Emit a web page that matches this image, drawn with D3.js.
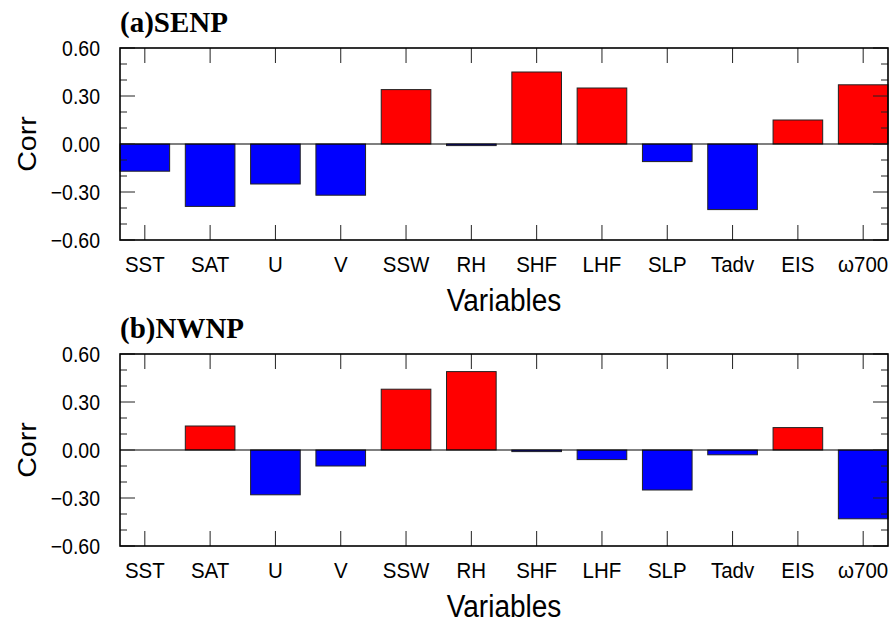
<!DOCTYPE html>
<html>
<head>
<meta charset="utf-8">
<script src="https://cdn.jsdelivr.net/npm/d3@7"></script>
<style>
  body { margin: 0; background: #fff; }
  svg { display: block; }
</style>
</head>
<body>
<div id="root"></div>
<script>
// categories and values
var variables = ["SST", "SAT", "U", "V", "SSW", "RH", "SHF", "LHF", "SLP", "Tadv", "EIS", "\u03c9700"];
var senp = [-0.17, -0.39, -0.25, -0.32, 0.34, -0.01, 0.45, 0.35, -0.11, -0.41, 0.15, 0.37];
var nwnp = [0.00, 0.15, -0.28, -0.10, 0.38, 0.49, -0.01, -0.06, -0.25, -0.03, 0.14, -0.43];
var yMajor = [-0.6, -0.3, 0, 0.3, 0.6];
var yMinor = [-0.5, -0.4, -0.2, -0.1, 0.1, 0.2, 0.4, 0.5];

var panels = [
  { title: "(a)SENP", values: senp, top: 48 },
  { title: "(b)NWNP", values: nwnp, top: 354 }
];

var config = {
  "width": 892,
  "height": 622,
  "left": 120,
  "right": 888,
  "plotH": 192,
  "barW": 0.76,   // bar width in category units
  "major": 15,
  "minor": 7,
  "stretch": 1.1  // NCL fonts look a bit taller than Liberation Sans
};

var sans = "'Liberation Sans', Arial, sans-serif";

var svg = d3.select("#root").append("svg")
  .attr("width", config.width)
  .attr("height", config.height);

var x = d3.scaleLinear()
  .domain([-config.barW / 2, variables.length - 1 + config.barW / 2])
  .range([config.left, config.right]);

var fmt = d3.format(".2f");

function place(px, py, extra) {
  return "translate(" + px + "," + py + ")" + (extra || "") + " scale(1," + config.stretch + ")";
}

panels.forEach(function(p) {
  var y = d3.scaleLinear()
    .domain([-0.6, 0.6])
    .range([p.top + config.plotH, p.top]);

  var g = svg.append("g");

  // bars
  g.selectAll("rect.bar")
    .data(p.values)
    .enter().append("rect")
    .attr("class", "bar")
    .attr("x", function(d, i) { return x(i - config.barW / 2); })
    .attr("width", x(config.barW) - x(0))
    .attr("y", function(d) { return y(Math.max(0, d)); })
    .attr("height", function(d) { return Math.abs(y(d) - y(0)); })
    .style("fill", function(d) { return d >= 0 ? "#ff0000" : "#0000ff"; })
    .style("stroke", "#222")
    .style("stroke-width", 1);

  // zero line
  g.append("line")
    .attr("x1", config.left).attr("x2", config.right)
    .attr("y1", y(0)).attr("y2", y(0))
    .style("stroke", "#000").style("stroke-width", 1.2);

  // y ticks, inward on both sides
  var yt = yMajor.map(function(v) { return { v: v, len: config.major }; })
    .concat(yMinor.map(function(v) { return { v: v, len: config.minor }; }));
  g.selectAll("line.yl").data(yt).enter().append("line")
    .attr("x1", config.left).attr("x2", function(d) { return config.left + d.len; })
    .attr("y1", function(d) { return y(d.v); }).attr("y2", function(d) { return y(d.v); })
    .style("stroke", "#222").style("stroke-width", 1);
  g.selectAll("line.yr").data(yt).enter().append("line")
    .attr("x1", config.right).attr("x2", function(d) { return config.right - d.len; })
    .attr("y1", function(d) { return y(d.v); }).attr("y2", function(d) { return y(d.v); })
    .style("stroke", "#222").style("stroke-width", 1);

  // x ticks top and bottom
  g.selectAll("line.xb").data(variables).enter().append("line")
    .attr("x1", function(d, i) { return x(i); }).attr("x2", function(d, i) { return x(i); })
    .attr("y1", y(-0.6)).attr("y2", y(-0.6) - config.major)
    .style("stroke", "#222").style("stroke-width", 1);
  g.selectAll("line.xt").data(variables).enter().append("line")
    .attr("x1", function(d, i) { return x(i); }).attr("x2", function(d, i) { return x(i); })
    .attr("y1", y(0.6)).attr("y2", y(0.6) + config.major)
    .style("stroke", "#222").style("stroke-width", 1);

  // frame
  g.append("rect")
    .attr("x", config.left).attr("y", p.top)
    .attr("width", config.right - config.left).attr("height", config.plotH)
    .style("fill", "none").style("stroke", "#000").style("stroke-width", 1.6);

  // y tick labels
  g.selectAll("text.ylab").data(yMajor).enter().append("text")
    .attr("transform", function(d) { return place(100, y(d)); })
    .attr("dy", "0.36em")
    .attr("text-anchor", "end")
    .style("font-family", sans)
    .style("font-size", "19.5px")
    .text(function(d) { return fmt(d); });

  // category labels
  g.selectAll("text.xlab").data(variables).enter().append("text")
    .attr("transform", function(d, i) { return place(x(i), y(-0.6) + 32); })
    .attr("text-anchor", "middle")
    .style("font-family", sans)
    .style("font-size", "20.5px")
    .text(function(d) { return d; });

  // axis titles
  g.append("text")
    .attr("transform", place((config.left + config.right) / 2, y(-0.6) + 71))
    .attr("text-anchor", "middle")
    .style("font-family", sans)
    .style("font-size", "28px")
    .text("Variables");

  g.append("text")
    .attr("transform", "translate(36," + y(0) + ") rotate(-90) scale(" + config.stretch + ",1)")
    .attr("text-anchor", "middle")
    .style("font-family", sans)
    .style("font-size", "26px")
    .text("Corr");

  // panel title
  g.append("text")
    .attr("x", config.left)
    .attr("y", p.top - 16)
    .style("font-family", "'Liberation Serif', 'Times New Roman', serif")
    .style("font-weight", "bold")
    .style("font-size", "29px")
    .text(p.title);
});
</script>
</body>
</html>
